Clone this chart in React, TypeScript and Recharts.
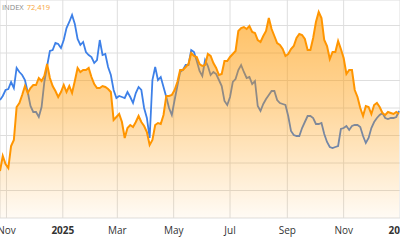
import React from "react";
import { ComposedChart, Line, Area, XAxis, YAxis, CartesianGrid } from "recharts";

// Sampling: one point every 3 days starting Oct 25, 2024 (day 0)
const STEP_DAYS = 3;

const INDEX_VALUES = [
  66700, 68200, 67400, 67000, 69200, 69800, 73100, 73500, 74300, 75200,
  74500, 75000, 75300, 75300, 76000, 75700, 76200, 77400, 76000, 75200,
  74700, 74100, 74600, 75300, 74600, 75200, 74500, 75700, 77000, 76600,
  76800, 76800, 77000, 76100, 75400, 75000, 75000, 75200, 75100, 74900,
  74600, 71800, 72100, 72400, 71600, 70000, 71000, 71300, 71100, 71600,
  72200, 71600, 71200, 70600, 69300, 69800, 71300, 71500, 71400, 72300,
  74200, 74200, 74300, 74800, 75600, 76800, 76800, 77100, 77400, 78500,
  78200, 78100, 77400, 77200, 77300, 78400, 78200, 77500, 77000, 76300,
  76400, 77700, 77700, 78100, 78400, 78700, 80700, 81000, 81100, 80900,
  81200, 80600, 80500, 79800, 79600, 80200, 80700, 82000, 80900, 80200,
  79500, 79300, 78900, 78200, 78400, 78900, 79200, 80000, 80400, 80300,
  79900, 78800, 78800, 80000, 81600, 82600, 82000, 79800, 79200, 77900,
  78600, 78600, 79700, 78900, 78000, 76400, 76800, 76800, 74800, 74100,
  73000, 72200, 73200, 73100, 72400, 73300, 73500, 73100, 72500, 72300,
  72600, 72500, 72400, 72600, 72419,
];

const COMPARE_VALUES = [
  73800, 74200, 74800, 74900, 75600, 75000, 77000, 76600, 76300, 75800,
  74600, 73200, 72600, 72600, 72100, 73100, 75600, 77200, 78700, 78800,
  79500, 79400, 79000, 79800, 81000, 81600, 82300, 81400, 79900, 79300,
  79600, 78600, 78300, 78100, 77500, 77800, 79800, 78300, 78400, 77100,
  76300, 74800, 74000, 74200, 74100, 74000, 74600, 74100, 73500, 74500,
  75100, 74800, 73000, 72000, 70000, 75800, 77100, 75800, 76100, 75100,
  74100, 73000, 72300, 73800, 75200, 76600, 76800, 77300, 77300, 78800,
  78600, 77700, 76700, 76200, 77800, 77200, 76300, 76600, 76400, 75800,
  75200, 73700, 73300, 74100, 75600, 75900, 76800, 77300, 76600, 76000,
  76100, 75400, 75700, 73200, 72700, 73400, 73900, 74300, 74700, 74700,
  73800, 73500, 73400, 73300, 72200, 70700, 70300, 70200, 70200, 71000,
  71600, 72200, 72200, 72000, 71400, 71400, 71500, 70400, 69600, 69100,
  69000, 69100, 69200, 70900, 71000, 71200, 70800, 71200, 71300, 71300,
  71100, 70200, 69500, 70000, 71000, 71600, 72000, 72300, 72500, 72000,
  71900, 72000, 72000, 72100, 72700,
];

const MONTH_TICKS = [7, 68, 127, 188, 249, 311, 372, 433];
const MONTH_LABELS = ["Nov", "2025", "Mar", "May", "Jul", "Sep", "Nov", "2026"];
const YEAR_LABELS = ["2025", "2026"];
const Y_TICKS = [62000, 64750, 67500, 70250, 73000, 75750, 78500, 81250];
const Y_DOMAIN = [62000, 83800];

const data = INDEX_VALUES.map((v, i) => ({
  t: i * STEP_DAYS,
  index: v,
  compare: COMPARE_VALUES[i],
}));

const Tick = (props: any) => {
  const { x, payload } = props;
  const idx = MONTH_TICKS.indexOf(payload.value);
  const label = MONTH_LABELS[idx] ?? "";
  const bold = YEAR_LABELS.includes(label);
  return (
    <text
      x={x}
      y={234}
      textAnchor="middle"
      fontSize={10}
      fontFamily="'Open Sans', sans-serif"
      fontWeight={bold ? 700 : 400}
      fill="#333"
    >
      {label}
    </text>
  );
};

export default function App() {
  return (
    <div style={{ position: "absolute", left: 0, top: 0, width: 400, height: 240, background: "#fff" }}>
      <ComposedChart width={400} height={240} data={data} margin={{ top: 0, right: 0, left: 0, bottom: 0 }}>
        <defs>
          <linearGradient id="orangeFill" x1="0" y1="0" x2="0" y2="1">
            <stop offset="0%" stopColor="#ff9800" stopOpacity={0.62} />
            <stop offset="45%" stopColor="#ff9800" stopOpacity={0.4} />
            <stop offset="100%" stopColor="#ff9800" stopOpacity={0.04} />
          </linearGradient>
        </defs>
        <CartesianGrid stroke="#dedede" strokeWidth={1} />
        <XAxis
          dataKey="t"
          type="number"
          domain={[0, 433]}
          ticks={MONTH_TICKS}
          interval={0}
          axisLine={false}
          tickLine={false}
          height={22}
          tick={<Tick />}
          allowDataOverflow
        />
        <YAxis hide domain={Y_DOMAIN} ticks={Y_TICKS} allowDataOverflow />
        <Line
          type="linear"
          dataKey="compare"
          stroke="#3d80e8"
          strokeWidth={1.8}
          dot={false}
          activeDot={false}
          isAnimationActive={false}
          zIndex={50}
        />
        <Area
          type="linear"
          dataKey="index"
          stroke="#ff9500"
          strokeWidth={2}
          fill="url(#orangeFill)"
          fillOpacity={1}
          baseValue={Y_DOMAIN[0]}
          dot={false}
          activeDot={false}
          isAnimationActive={false}
        />
      </ComposedChart>
      <div
        style={{
          position: "absolute",
          left: 2,
          top: 2,
          fontFamily: "'Open Sans', sans-serif",
          fontSize: 7.5,
          lineHeight: "10px",
          whiteSpace: "nowrap",
        }}
      >
        <span style={{ color: "#8a8a8a" }}>INDEX</span>
        <span style={{ color: "#f7a53a", marginLeft: 3 }}>72,419</span>
      </div>
    </div>
  );
}
